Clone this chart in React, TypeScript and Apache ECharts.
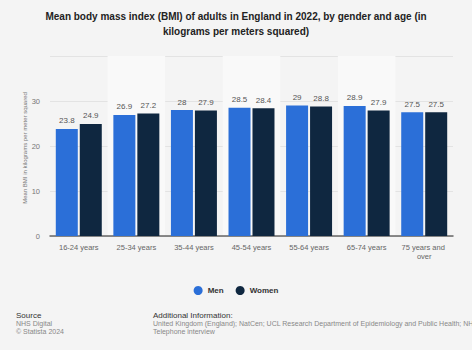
import React, { useEffect, useRef } from "react";
import * as echarts from "echarts";

const categories = ["16-24 years", "25-34 years", "35-44 years", "45-54 years", "55-64 years", "65-74 years", "75 years and over"];
const menValues = [23.8, 26.9, 28, 28.5, 29, 28.9, 27.5];
const womenValues = [24.9, 27.2, 27.9, 28.4, 28.8, 27.9, 27.5];
const seriesNames = ["Men", "Women"];
const titleText = "Mean body mass index (BMI) of adults in England in 2022, by gender and age (in\nkilograms per meters squared)";
const yAxisName = "Mean BMI in kilograms per meter squared";
const additionalInfo = "United Kingdom (England); NatCen; UCL Research Department of Epidemiology and Public Health; NHS Digital; 2022; 4,5";

const FONT = "'Liberation Sans', Arial, sans-serif";

export default function App() {
  const ref = useRef<HTMLDivElement>(null);
  useEffect(() => {
    if (!ref.current) return;
    const chart = echarts.init(ref.current, undefined, { renderer: "svg" });
    const label = {
      show: true,
      position: "top",
      distance: 4,
      color: "#555",
      fontSize: 8,
      fontFamily: FONT,
    };
    chart.setOption({
      animation: false,
      backgroundColor: "#f4f4f4",
      textStyle: { fontFamily: FONT },
      title: {
        text: titleText,
        left: "center",
        top: 4,
        textStyle: { fontSize: 10, fontWeight: "bold", color: "#222", lineHeight: 15, fontFamily: FONT },
      },
      grid: { left: 50, right: 19, top: 56, bottom: 114 },
      legend: {
        data: seriesNames,
        top: 281,
        left: "center",
        icon: "circle",
        itemWidth: 9,
        itemHeight: 9,
        itemGap: 12,
        textStyle: { fontSize: 8, fontWeight: "bold", color: "#333", fontFamily: FONT },
      },
      xAxis: {
        type: "category",
        data: categories,
        axisLine: { lineStyle: { color: "#666", width: 1.5 } },
        axisTick: { show: false },
        axisLabel: {
          color: "#666",
          fontSize: 7.5,
          margin: 7,
          interval: 0,
          width: 56,
          overflow: "break",
          lineHeight: 9,
          fontFamily: FONT,
        },
        splitArea: { show: true, areaStyle: { color: ["rgba(0,0,0,0)", "#f9f9f9"] } },
      },
      yAxis: {
        type: "value",
        min: 0,
        max: 40,
        interval: 10,
        axisLabel: {
          color: "#777",
          fontSize: 7.5,
          margin: 10,
          fontFamily: FONT,
          formatter: (v: number) => (v === 40 ? "" : String(v)),
        },
        splitLine: { lineStyle: { color: "#e3e3e3", width: 1 } },
        axisLine: { show: false },
      },
      series: [
        {
          name: seriesNames[0],
          type: "bar",
          data: menValues,
          barWidth: 22,
          barGap: "9%",
          itemStyle: { color: "#2b6fd8" },
          label,
        },
        {
          name: seriesNames[1],
          type: "bar",
          data: womenValues,
          barWidth: 22,
          itemStyle: { color: "#0f2740" },
          label,
        },
      ],
      graphic: [
        {
          type: "text",
          x: 25,
          y: 148,
          rotation: Math.PI / 2,
          style: { text: yAxisName, fontSize: 6, fill: "#777", fontFamily: FONT, align: "center", verticalAlign: "middle" },
        },
        { type: "text", left: 16, top: 311, style: { text: "Source", fontSize: 8, fill: "#333", fontFamily: FONT } },
        { type: "text", left: 16, top: 319, style: { text: "NHS Digital\n© Statista 2024", fontSize: 7, lineHeight: 8, fill: "#888", fontFamily: FONT } },
        { type: "text", left: 153, top: 311, style: { text: "Additional Information:", fontSize: 8, fill: "#333", fontFamily: FONT } },
        { type: "text", left: 153, top: 319, style: { text: additionalInfo + "\nTelephone interview", fontSize: 7, lineHeight: 8, fill: "#888", fontFamily: FONT } },
      ],
    });
    return () => chart.dispose();
  }, []);
  return (
    <div style={{ position: "fixed", left: 0, top: 0, width: 474, height: 352, overflow: "hidden", background: "#fff" }}>
      <div ref={ref} style={{ width: 472, height: 350 }} />
    </div>
  );
}
